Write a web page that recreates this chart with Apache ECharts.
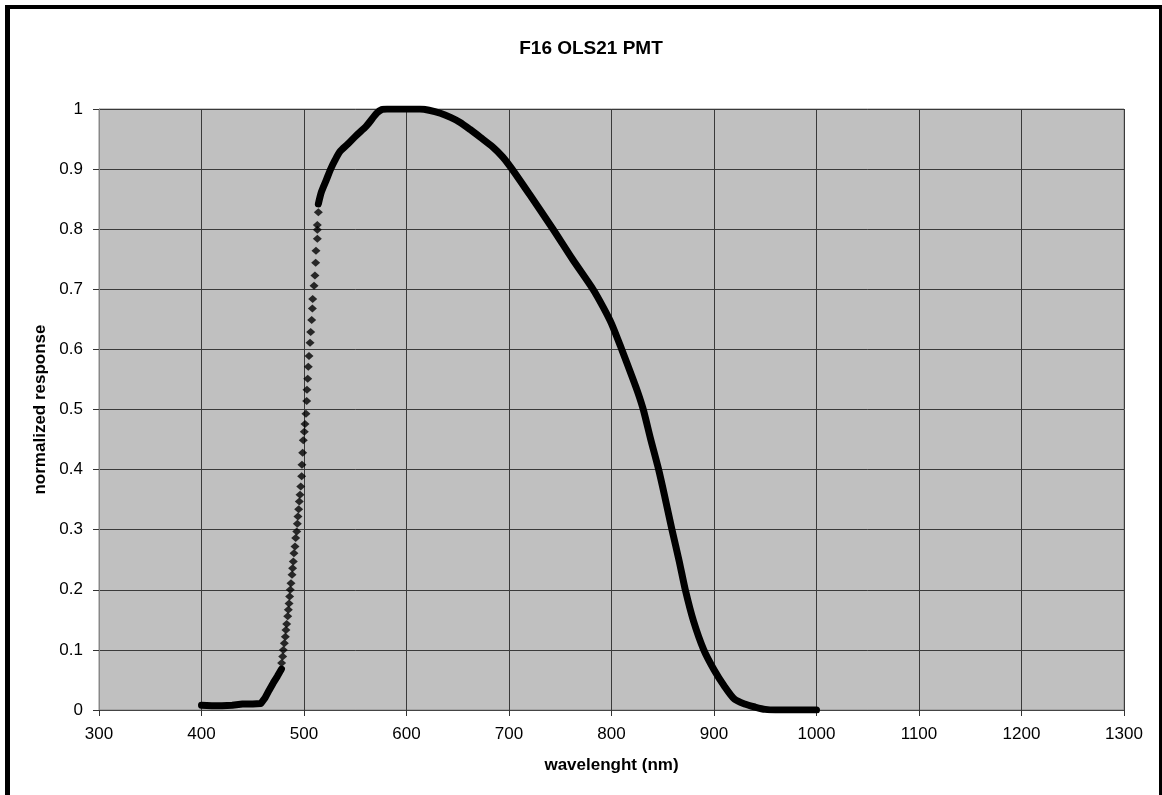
<!DOCTYPE html>
<html>
<head>
<meta charset="utf-8">
<script src="https://cdn.jsdelivr.net/npm/echarts@6/dist/echarts.min.js"></script>
<style>
  html, body { margin: 0; padding: 0; background: #fff; }
  #main { width: 1162px; height: 795px; }
</style>
</head>
<body>
<div id="main"></div>
<script>
// wavelength (nm) / normalized response
var lowNm   = [400, 410, 420, 430, 440, 450, 458, 462, 466, 470, 474, 478];
var lowResp = [0.008, 0.007, 0.007, 0.008, 0.010, 0.010, 0.011, 0.020, 0.033, 0.045, 0.056, 0.068];

// steep part, where the single diamonds can be seen
var riseNm = [478.2, 479.2, 479.8, 480.8, 481.8, 482.4, 483.1, 484.1, 484.7, 485.4,
              486.0, 486.6, 487.3, 488.3, 488.9, 489.6, 490.2, 491.2, 491.9, 492.9,
              493.5, 494.1, 494.8, 495.4, 496.1, 496.8, 497.7, 498.0, 498.7, 499.3,
              500.3, 501.0, 501.9, 502.6, 502.9, 503.6, 504.2, 504.9, 505.9, 506.5,
              507.5, 508.2, 508.5, 509.8, 510.7, 511.4, 511.7, 513.0, 513.0, 513.0, 514.0];
var riseResp = [0.078, 0.089, 0.100, 0.111, 0.122, 0.133, 0.143, 0.156, 0.167, 0.177,
                0.189, 0.200, 0.211, 0.225, 0.236, 0.247, 0.261, 0.272, 0.286, 0.297,
                0.310, 0.322, 0.334, 0.347, 0.358, 0.372, 0.389, 0.408, 0.428, 0.449,
                0.463, 0.476, 0.493, 0.514, 0.533, 0.551, 0.571, 0.589, 0.611, 0.629,
                0.649, 0.668, 0.684, 0.706, 0.723, 0.744, 0.764, 0.784, 0.799, 0.807, 0.828];

var highNm   = [514, 517, 522, 526, 530, 535, 543, 551, 561, 571, 576, 581, 600, 613, 622,
                633, 643, 652, 662, 672, 684, 694, 703, 720, 743, 762, 782, 792, 800, 810,
                820, 826, 831, 838, 846, 852, 859, 866, 872, 880, 890, 900, 910, 920, 930, 940,
                950, 960, 1000];
var highResp = [0.842, 0.862, 0.883, 0.900, 0.914, 0.929, 0.942, 0.956, 0.972, 0.993, 0.999, 1.000, 1.000, 1.000, 0.998,
                0.993, 0.986, 0.978, 0.966, 0.953, 0.937, 0.920, 0.900, 0.858, 0.800, 0.750, 0.700, 0.670, 0.643, 0.600,
                0.555, 0.527, 0.500, 0.452, 0.400, 0.355, 0.300, 0.248, 0.200, 0.148, 0.100, 0.067, 0.040, 0.018, 0.010, 0.005,
                0.001, 0.000, 0.000];

function pairs(xs, ys) {
    return xs.map(function (x, i) { return [x, ys[i]]; });
}

var FONT = '"Liberation Sans", Arial, sans-serif';
var chart = echarts.init(document.getElementById('main'));

chart.setOption({
    backgroundColor: '#fff',
    animation: false,
    title: {
        text: 'F16 OLS21 PMT',
        left: 586,
        textAlign: 'center',
        top: 34,
        textStyle: { fontFamily: FONT, fontWeight: 'bold', fontSize: 19, color: '#000' }
    },
    grid: {
        left: 99, right: 38, top: 109, bottom: 85,
        show: true,
        backgroundColor: '#c0c0c0',
        borderColor: '#8a8a8a',
        borderWidth: 1
    },
    xAxis: {
        type: 'value',
        min: 300, max: 1300, interval: 100,
        name: 'wavelenght (nm)',
        nameLocation: 'middle',
        nameGap: 47,
        nameTextStyle: { fontFamily: FONT, fontWeight: 'bold', fontSize: 17, color: '#000' },
        axisLine: { lineStyle: { color: '#444', width: 1 } },
        axisTick: { show: true, length: 6, lineStyle: { color: '#333' } },
        axisLabel: {
            fontFamily: FONT, fontSize: 17, color: '#000', margin: 16,
            formatter: function (v) { return String(v); }
        },
        splitLine: { show: true, lineStyle: { color: '#3a3a3a', width: 1 } }
    },
    yAxis: {
        type: 'value',
        min: 0, max: 1, interval: 0.1,
        name: 'normalized response',
        nameLocation: 'middle',
        nameGap: 48,
        nameTextStyle: { fontFamily: FONT, fontWeight: 'bold', fontSize: 17, color: '#000' },
        axisLine: { show: true, lineStyle: { color: '#888', width: 1 } },
        axisTick: { show: true, length: 6, lineStyle: { color: '#333' } },
        axisLabel: { fontFamily: FONT, fontSize: 17, color: '#000', margin: 16 },
        splitLine: { show: true, lineStyle: { color: '#3a3a3a', width: 1 } }
    },
    graphic: [
        // black frame around the chart area (no bottom edge in the picture)
        { type: 'rect', shape: { x: 5, y: 5, width: 5, height: 790 }, style: { fill: '#000' } },
        { type: 'rect', shape: { x: 5, y: 5, width: 1157, height: 4 }, style: { fill: '#000' } },
        { type: 'rect', shape: { x: 1159, y: 5, width: 3, height: 790 }, style: { fill: '#000' } }
    ],
    series: [
        {
            type: 'line',
            data: pairs(lowNm, lowResp),
            symbol: 'none',
            lineStyle: { color: '#000', width: 7, cap: 'round', join: 'round' }
        },
        {
            type: 'scatter',
            data: pairs(riseNm, riseResp),
            symbol: 'diamond',
            symbolSize: [9, 8],
            itemStyle: { color: '#000' }
        },
        {
            type: 'line',
            data: pairs(highNm, highResp),
            symbol: 'none',
            smooth: 0.25,
            lineStyle: { color: '#000', width: 7, cap: 'round', join: 'round' }
        }
    ]
});
</script>
</body>
</html>
